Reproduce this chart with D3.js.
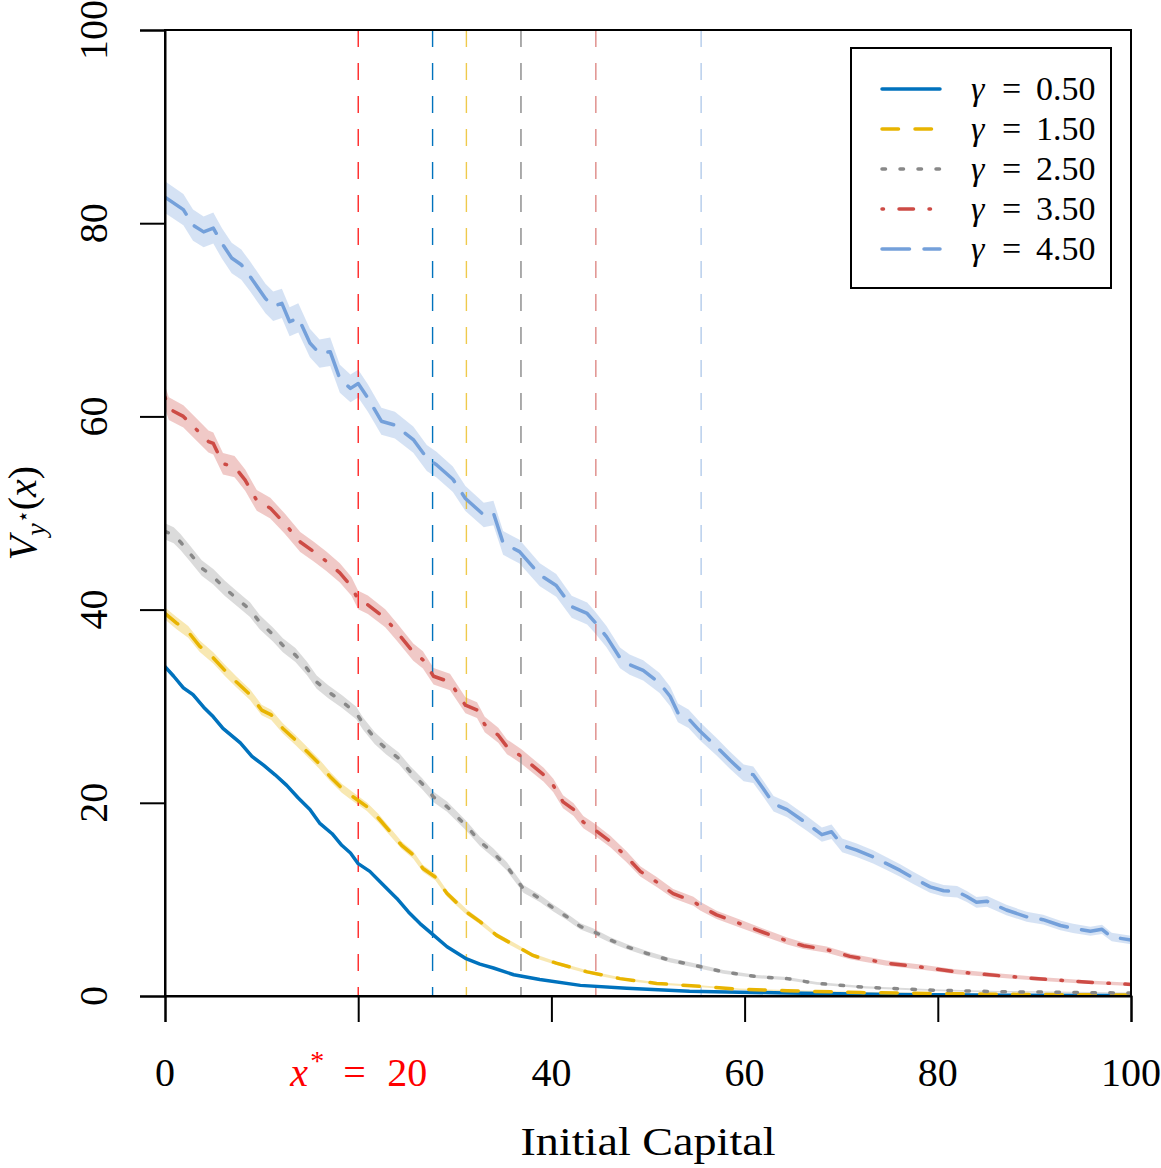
<!DOCTYPE html>
<html>
<head>
<meta charset="utf-8">
<script src="https://cdn.jsdelivr.net/npm/d3@7.9.0/dist/d3.min.js"></script>
<style>
  body { margin: 0; background: #fff; }
  svg { display: block; font-family: 'Liberation Serif', serif; }
</style>
</head>
<body>
<div id="chart"></div>
<script>
// values, [initial capital, V]
const gamma050 = [[0,34.1],[0.9,33.1],[1.9,31.9],[2.9,31.2],[4,29.9],[5,28.9],[6,27.7],[7.8,26.2],[9,24.8],[10.2,23.9],[11.4,22.9],[12.6,21.8],[13.8,20.5],[15,19.3],[16,17.9],[17.3,16.8],[18.3,15.6],[19.2,14.8],[20,13.7],[21.2,12.9],[22.6,11.5],[24,10.1],[25.2,8.7],[26.4,7.5],[27.8,6.3],[29.2,5.1],[31.1,3.9],[32.6,3.3],[34,2.9],[36.1,2.2],[38.8,1.7],[43,1.1],[47.8,0.8],[54.3,0.5],[64.4,0.3],[75,0.15],[88,0.08],[100,0.05]];
const gamma150 = [[0,39.6],[1.2,38.6],[2.4,37.7],[3.6,36.2],[5,35.0],[6.2,33.7],[7.4,32.5],[8.8,31.2],[10,29.6],[11,29.1],[12.2,27.7],[13.5,26.5],[14.7,25.3],[15.9,24.1],[17.1,22.7],[18.3,21.5],[19.5,20.6],[20.9,19.6],[22.1,18.4],[23.3,17.0],[24.5,15.6],[25.7,14.6],[26.7,13.2],[28,12.3],[29.2,10.6],[31.2,8.7],[32.6,7.7],[34.3,6.3],[36.1,5.3],[38.1,4.2],[40.5,3.4],[43.7,2.5],[47.1,1.8],[50.9,1.3],[55.4,1.0],[59.5,0.7],[64.4,0.55],[72,0.35],[80,0.25],[90,0.15],[100,0.1]];
const gamma250 = [[0,48.1],[0.9,47.7],[1.6,47.0],[2.6,45.8],[3.8,44.3],[5,43.4],[6.2,42.2],[7.6,41.0],[8.8,40.0],[9.8,38.7],[11.2,37.4],[12.2,36.3],[13.5,35.3],[14.7,33.9],[15.7,32.5],[16.9,31.5],[18.3,30.5],[19.8,29.3],[20.5,28.2],[21.7,26.7],[22.9,25.6],[24.2,24.6],[25.4,23.2],[26.6,22.0],[27.8,20.6],[29.2,19.6],[31.2,17.6],[32.6,16.0],[34,14.8],[35.4,13.4],[36.2,12.3],[37.1,11.1],[38.8,10.1],[40.2,9.1],[41.6,8.2],[43,7.2],[44.3,6.7],[46.1,5.8],[47.8,5.1],[49.9,4.4],[52.3,3.7],[54.7,3.2],[57.8,2.5],[61.3,2.0],[64.4,1.8],[67.5,1.3],[72.6,0.9],[79.5,0.6],[86.4,0.45],[100,0.3]];
const gamma350 = [[0,62.0],[0.4,60.8],[1.9,60.0],[3.3,58.6],[4.5,57.4],[5,57.2],[6,55.1],[7.2,54.8],[8.3,53.4],[9.5,51.3],[10.9,50.5],[12.4,48.9],[14,47.0],[15.4,46.0],[16.7,45.0],[18.1,43.8],[19.3,42.4],[20,41.0],[21,40.5],[22.8,39.1],[24,37.7],[25.7,35.6],[26.7,34.8],[27.8,33.1],[29.5,32.5],[31.1,30.1],[32.3,29.6],[33.1,28.1],[34.5,27.0],[35.4,25.8],[36.9,24.8],[39.2,22.9],[40.2,21.8],[41.2,20.1],[42.3,19.3],[43.3,18.0],[44.5,17.2],[46.1,16.0],[47.8,14.4],[49.2,12.9],[50.9,11.8],[52.6,10.6],[54.7,9.8],[55.4,9.3],[57.1,8.4],[59.5,7.5],[61.9,6.6],[64.4,5.7],[66.1,5.2],[68.5,4.8],[70.9,4.1],[74.7,3.4],[78.2,3.0],[82,2.5],[86.4,2.1],[91.6,1.7],[96.1,1.4],[100,1.2]];
const gamma450 = [[0,82.7],[1.9,81.4],[2.9,79.8],[4,79.1],[5,79.5],[5.9,77.9],[6.9,76.4],[7.9,75.7],[8.8,74.5],[10.4,72.2],[11.2,71.4],[12.1,71.7],[12.9,69.8],[13.8,70.2],[15,67.6],[16,66.5],[17.1,66.7],[18.1,63.9],[19.2,62.9],[20,63.4],[21,61.9],[22.4,59.5],[23.8,59.1],[25.7,57.6],[27.1,55.7],[28.1,55.0],[29.8,53.5],[31.1,51.5],[33,49.8],[34,50.0],[35,46.9],[36.7,46.0],[38.8,43.6],[40.5,42.5],[42.1,40.3],[43.7,39.6],[44.5,38.7],[45.7,37.2],[47.1,35.0],[48.1,34.3],[49.5,33.7],[51.2,32.4],[52.3,31.0],[53.1,29.3],[54.2,28.7],[55.4,27.4],[57.1,25.8],[58.5,24.4],[59.9,23.1],[60.9,22.9],[61.9,21.5],[63,19.9],[64.4,19.3],[66.4,17.9],[68,16.7],[69,17.0],[70.1,15.6],[71.6,15.1],[73.3,14.4],[74.7,13.7],[76.1,13.0],[77.5,12.2],[79.2,11.3],[80.6,10.9],[82,10.8],[83,10.3],[84,9.7],[85.1,9.8],[87.1,8.9],[89.2,8.2],[90.9,7.9],[92.7,7.3],[94,7.0],[95.8,6.7],[97,6.9],[98,6.1],[100,5.8]];

const gammaLabels = ['0.50', '1.50', '2.50', '3.50', '4.50'];
const thresholds = [27.7, 31.2, 36.85, 44.6, 55.5];   // dashed vertical line per gamma
const xStar = 20;
const ciScale = [0.04, 0.1, 0.12, 0.15, 0.18];        // band half-width ~ ciScale*sqrt(V), estimated
const xTicks = [0, 20, 40, 60, 80, 100];
const yTicks = [0, 20, 40, 60, 80, 100];

const series = [gamma050, gamma150, gamma250, gamma350, gamma450];
const colors = ['#0072BD', '#E8B400', '#888888', '#CD4B45', '#74A0DA'];
const vlineOpacity = [1, 0.7, 1, 0.65, 0.55];
const dashes = [null, '16.5,16.5', '3.5,14.5', '1.5,15.5,14.5,15.5', '27.5,14.5'];

const width = 1161, height = 1168;
const plot = { left: 165, right: 1131, top: 30, bottom: 996 };

const svg = d3.select('#chart').append('svg')
    .attr('width', width)
    .attr('height', height);

const x = d3.scaleLinear().domain([0, 100]).range([plot.left, plot.right]);
const y = d3.scaleLinear().domain([0, 100]).range([plot.bottom, plot.top]);

svg.append('clipPath').attr('id', 'clip')
    .append('rect')
    .attr('x', plot.left).attr('y', plot.top)
    .attr('width', plot.right - plot.left).attr('height', plot.bottom - plot.top);

const body = svg.append('g').attr('clip-path', 'url(#clip)');

// confidence bands
series.forEach((s, i) => {
    const area = d3.area()
        .x(d => x(d[0]))
        .y0(d => y(Math.max(0, d[1] - ciScale[i] * Math.sqrt(d[1]))))
        .y1(d => y(d[1] + ciScale[i] * Math.sqrt(d[1])));
    body.append('path')
        .datum(s)
        .attr('d', area)
        .attr('fill', colors[i])
        .attr('fill-opacity', 0.3);
});

// threshold lines
body.selectAll('.vline')
    .data(thresholds)
    .enter()
    .append('line')
    .attr('class', 'vline')
    .attr('x1', d => x(d)).attr('x2', d => x(d))
    .attr('y1', plot.top).attr('y2', plot.bottom)
    .attr('stroke', (d, i) => colors[i])
    .attr('stroke-opacity', (d, i) => vlineOpacity[i])
    .attr('stroke-width', 1.4)
    .attr('stroke-dasharray', '17,16');

body.append('line')
    .attr('x1', x(xStar)).attr('x2', x(xStar))
    .attr('y1', plot.top).attr('y2', plot.bottom)
    .attr('stroke', '#ff0000')
    .attr('stroke-width', 1.2)
    .attr('stroke-dasharray', '17,16');

// curves
const line = d3.line().x(d => x(d[0])).y(d => y(d[1]));
series.forEach((s, i) => {
    body.append('path')
        .datum(s)
        .attr('d', line)
        .attr('fill', 'none')
        .attr('stroke', colors[i])
        .attr('stroke-width', 3.5)
        .attr('stroke-linecap', 'round')
        .attr('stroke-linejoin', 'round')
        .attr('stroke-dasharray', dashes[i]);
});

// frame
svg.append('rect')
    .attr('x', plot.left).attr('y', plot.top)
    .attr('width', plot.right - plot.left).attr('height', plot.bottom - plot.top)
    .attr('fill', 'none')
    .attr('stroke', 'black')
    .attr('stroke-width', 2);

// x axis
const xAxis = svg.append('g')
    .attr('transform', `translate(0, ${plot.bottom})`)
    .call(d3.axisBottom(x).tickValues(xTicks).tickSize(26).tickFormat(''));
xAxis.select('.domain').attr('stroke-width', 2);
xAxis.selectAll('.tick line').attr('stroke-width', 2);

xTicks.forEach(t => {
    if (t === xStar) {
        // red label for the optimal capital, laid out piece by piece
        const cx = x(t);
        const label = svg.append('text')
            .attr('y', 1086)
            .attr('font-size', 40)
            .attr('fill', '#ff0000');
        label.append('tspan').attr('x', cx - 68).attr('font-style', 'italic').text('x');
        label.append('tspan').attr('x', cx - 48).attr('dy', -16).attr('font-size', 28).text('*');
        label.append('tspan').attr('x', cx - 15).attr('dy', 16).text('=');
        label.append('tspan').attr('x', cx + 29).text('20');
    } else {
        svg.append('text')
            .attr('x', x(t))
            .attr('y', 1086)
            .attr('text-anchor', 'middle')
            .attr('font-size', 40)
            .text(t);
    }
});

svg.append('text')
    .attr('x', (plot.left + plot.right) / 2)
    .attr('y', 1155)
    .attr('text-anchor', 'middle')
    .attr('font-size', 39)
    .attr('textLength', 255)
    .attr('lengthAdjust', 'spacingAndGlyphs')
    .text('Initial Capital');

// y axis
const yAxis = svg.append('g')
    .attr('transform', `translate(${plot.left}, 0)`)
    .call(d3.axisLeft(y).tickValues(yTicks).tickSize(25).tickFormat(''));
yAxis.select('.domain').attr('stroke-width', 2);
yAxis.selectAll('.tick line').attr('stroke-width', 2);

yTicks.forEach(t => {
    svg.append('text')
        .attr('transform', `translate(107, ${y(t)}) rotate(-90)`)
        .attr('text-anchor', 'middle')
        .attr('font-size', 40)
        .text(t);
});

const yLabel = svg.append('text')
    .attr('transform', `translate(36, ${(plot.top + plot.bottom) / 2}) rotate(-90)`)
    .attr('text-anchor', 'middle')
    .attr('font-size', 40);
yLabel.append('tspan').attr('font-style', 'italic').text('V');
yLabel.append('tspan').attr('font-style', 'italic').attr('font-size', 28).attr('dy', 9).text('y');
yLabel.append('tspan').attr('font-size', 21).attr('dy', -15).text('⋆');
yLabel.append('tspan').attr('dy', 6).text('(');
yLabel.append('tspan').attr('font-style', 'italic').text('x');
yLabel.append('tspan').text(')');

// legend
const legend = svg.append('g').attr('class', 'legend');
legend.append('rect')
    .attr('x', 851).attr('y', 48)
    .attr('width', 260).attr('height', 240)
    .attr('fill', 'white')
    .attr('stroke', 'black')
    .attr('stroke-width', 2);

const legendItem = legend.selectAll('.legend-item')
    .data(gammaLabels)
    .enter()
    .append('g')
    .attr('class', 'legend-item')
    .attr('transform', (d, i) => `translate(0, ${89 + i * 40})`);

legendItem.append('line')
    .attr('x1', 882).attr('x2', 940)
    .attr('stroke', (d, i) => colors[i])
    .attr('stroke-width', 3.5)
    .attr('stroke-linecap', 'round')
    .attr('stroke-dasharray', (d, i) => dashes[i]);

const legendText = legendItem.append('text')
    .attr('y', 11)
    .attr('font-size', 34);
legendText.append('tspan').attr('x', 971).attr('font-style', 'italic').text('γ');
legendText.append('tspan').attr('x', 1002).text('=');
legendText.append('tspan').attr('x', 1036).text(d => d);
</script>
</body>
</html>
